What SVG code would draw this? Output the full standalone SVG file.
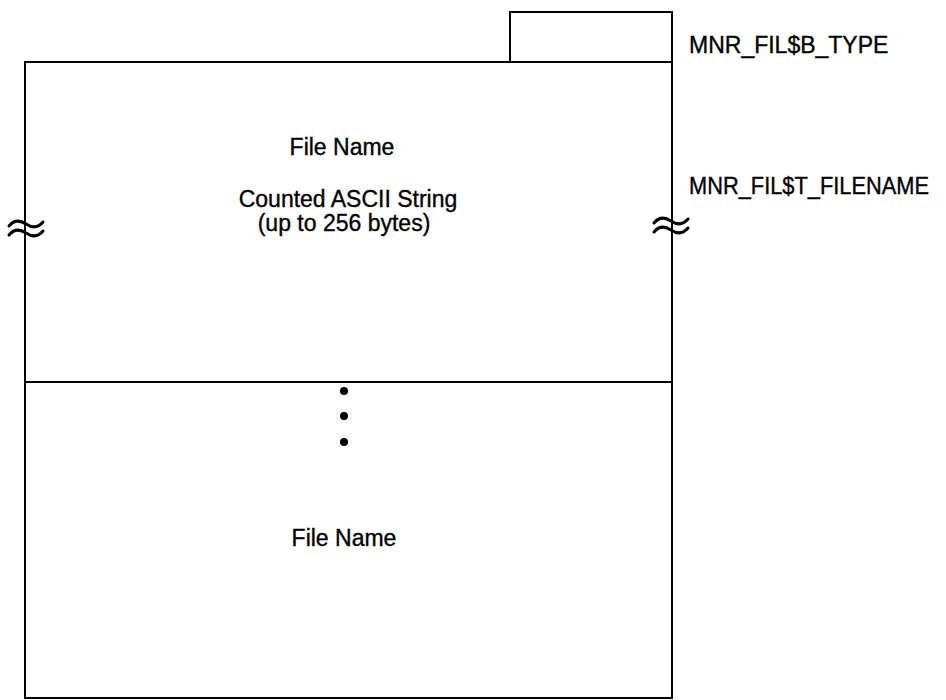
<svg xmlns="http://www.w3.org/2000/svg" width="946" height="700" viewBox="0 0 946 700">
<style>
.box{fill:none;stroke:#000;stroke-width:2}
.t{font-family:"Liberation Sans",Arial,sans-serif;font-size:23px;fill:#000;stroke:#000;stroke-width:0.35}
.m{text-anchor:middle}
.sq{fill:none;stroke:#000;stroke-width:3;stroke-linecap:round}
</style>
<rect width="946" height="700" fill="#fff"/>
<g id="type_field">
<rect class="box" x="510" y="12" width="162" height="50"/>
<text class="t" x="689" y="53">MNR_FIL$B_TYPE</text>
</g>
<g id="filename_field">
<rect class="box" x="25" y="62" width="647" height="320"/>
<text class="t m" x="342" y="155">File Name</text>
<text class="t m" x="348" y="207">Counted ASCII String</text>
<text class="t m" x="344" y="231">(up to 256 bytes)</text>
<text class="t" x="689" y="194" textLength="240" lengthAdjust="spacingAndGlyphs">MNR_FIL$T_FILENAME</text>
</g>
<g id="filename_n">
<path class="box" d="M25,382 V698 H672 V382"/>
<circle cx="344" cy="391" r="4"/>
<circle cx="344" cy="416" r="4"/>
<circle cx="344" cy="442" r="4"/>
<text class="t m" x="344" y="546">File Name</text>
</g>
<g id="breaks">
<path class="sq" d="M9,226 C14,220 20,220 26,224 C32,228 38,228 43,222"/>
<path class="sq" d="M9,235 C14,229 20,229 26,233 C32,237 38,237 43,231"/>
<path class="sq" d="M654,223 C659,217 665,217 671,221 C677,225 683,225 688,219"/>
<path class="sq" d="M654,232 C659,226 665,226 671,230 C677,234 683,234 688,228"/>
</g>
</svg>
